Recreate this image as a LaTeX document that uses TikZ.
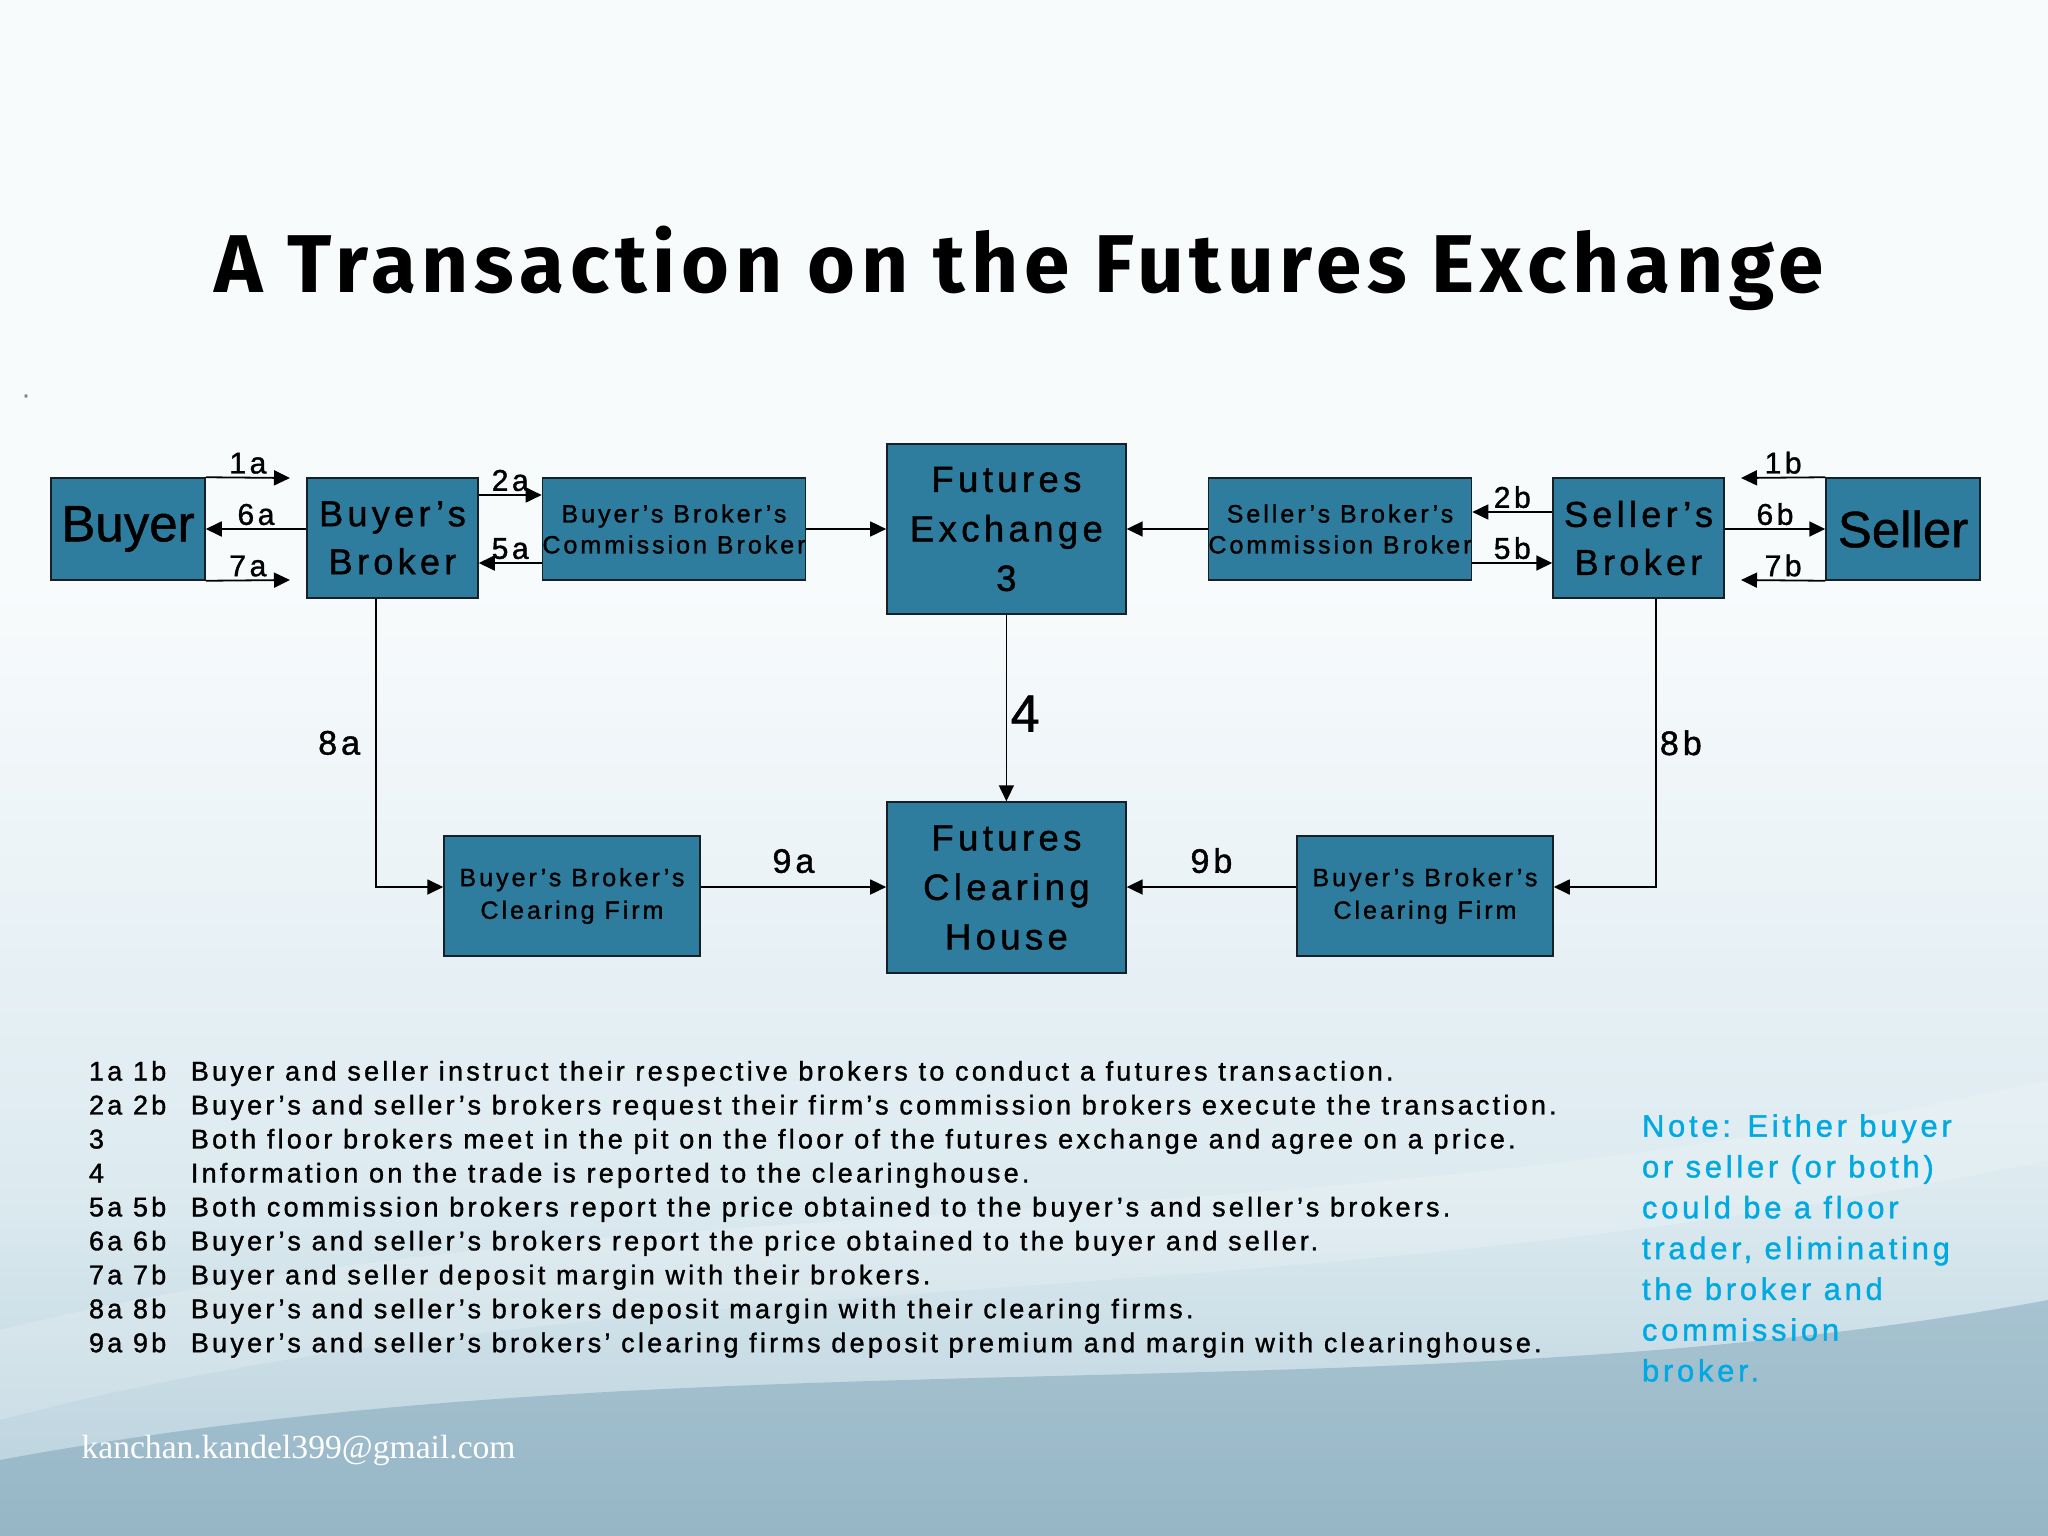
\documentclass[tikz,border=0pt]{standalone}
\usepackage{fontspec}
\setmainfont{Liberation Sans}[FakeBold=1]
\newfontfamily\boxfont{Liberation Sans}[LetterSpace=12, FakeBold=1.2]
\newfontfamily\headfont{Fira Sans}[LetterSpace=7]
\newfontfamily\mailfont{Liberation Serif}
\usepackage{tikz}
\usetikzlibrary{arrows.meta, positioning}
\tikzset{
	box/.style={
		draw=boxline,
		fill=boxblue,
		line width=1.5pt,
		inner sep=0pt,
		align=center
	},
	edge/.style={
		-{Triangle[length=16pt,width=15pt]},
		line width=1.8pt
	},
	num/.style={font={\boxfont\fontsize{30}{32}\selectfont}, inner sep=3pt}
}
\definecolor{boxblue}{RGB}{46,124,158}
\definecolor{boxline}{RGB}{22,32,38}
\definecolor{notecyan}{RGB}{0,169,226}
\definecolor{bgA}{RGB}{92,138,162}
\definecolor{bgB}{RGB}{150,184,200}
\definecolor{bgC}{RGB}{220,234,240}
\definecolor{bgD}{RGB}{248,251,252}
\pgfdeclareverticalshading{slidebg}{100bp}{color(0bp)=(bgA); color(16bp)=(bgB); color(36bp)=(bgC); color(56bp)=(bgD); color(100bp)=(bgD)}

\begin{document}
\begin{tikzpicture}[x=1pt, y=-1pt]
	\useasboundingbox (0,0) rectangle (2048,1536);
	% slide background
	\fill[shading=slidebg] (0,0) rectangle (2048,1536);
	\fill[white, opacity=0.18] (0,1330) .. controls (600,1180) and (1300,1250) .. (2048,1080) -- (2048,1160) .. controls (1300,1320) and (600,1260) .. (0,1420) -- cycle;
	\fill[bgA, opacity=0.35] (0,1460) .. controls (700,1330) and (1400,1420) .. (2048,1300) -- (2048,1536) -- (0,1536) -- cycle;
	
	\node[font={\headfont\bfseries\fontsize{82}{86}\selectfont}] (title) at (1019,268) {A Transaction on the Futures Exchange};
	\node[text=gray, font=\fontsize{24}{24}\selectfont] (dot) at (26,396) {.};
	
	% top row
	\node[box, minimum width=154pt, minimum height=102pt, font={\fontsize{51}{56}\selectfont}] (buyer) at (128,529) {Buyer};
	\node[box, minimum width=171pt, minimum height=120pt, font={\boxfont\fontsize{36}{48}\selectfont}] (bb) at (392.5,538) {Buyer’s\\Broker};
	\node[box, minimum width=256pt, minimum height=102pt, font={\boxfont\fontsize{25}{31}\selectfont}] (bbcb) at (674,529) {Buyer’s Broker’s\\Commission Broker};
	\node[box, minimum width=239pt, minimum height=170pt, font={\boxfont\fontsize{36.5}{49.5}\selectfont}] (fe) at (1006.4,529) {Futures\\Exchange\\3};
	\node[box, minimum width=256pt, minimum height=102pt, font={\boxfont\fontsize{25}{31}\selectfont}] (sbcb) at (1340,529) {Seller’s Broker’s\\Commission Broker};
	\node[box, minimum width=171pt, minimum height=120pt, font={\boxfont\fontsize{36}{48}\selectfont}] (sb) at (1638.5,538) {Seller’s\\Broker};
	\node[box, minimum width=154pt, minimum height=102pt, font={\fontsize{51}{56}\selectfont}] (seller) at (1903,529) {Seller};
	
	% bottom row
	\node[box, minimum width=256pt, minimum height=120pt, font={\boxfont\fontsize{25}{32.7}\selectfont}] (bcf) at (572,896) {Buyer’s Broker’s\\Clearing Firm};
	\node[box, minimum width=239pt, minimum height=171pt, font={\boxfont\fontsize{36.5}{49.5}\selectfont}] (fch) at (1006.4,887.5) {Futures\\Clearing\\House};
	\node[box, minimum width=256pt, minimum height=120pt, font={\boxfont\fontsize{25}{32.7}\selectfont}] (scf) at (1425,896) {Buyer’s Broker’s\\Clearing Firm};
	
	\coordinate (a1end) at (290,478);
	\coordinate (a7end) at (290,580);
	\coordinate (b1end) at (1741,478);
	\coordinate (b7end) at (1741,580);
	\coordinate (r2a) at (0,495);
	\coordinate (r2b) at (0,512);
	\coordinate (r5) at (0,563);
	\coordinate (r9) at (0,887);
	\coordinate (c8a) at (376,0);
	\coordinate (c8b) at (1656,0);
	
	% buyer side
	\draw[edge] (buyer.north east) -- node[num, above]{1a} (a1end);
	\draw[edge] (bb.west |- buyer.east) -- node[num, above]{6a} (buyer.east);
	\draw[edge] (buyer.south east) -- node[num, above]{7a} (a7end);
	\draw[edge] (bb.east |- r2a) -- node[num, above]{2a} (bbcb.west |- r2a);
	\draw[edge] (bbcb.west |- r5) -- node[num, above]{5a} (bb.east |- r5);
	\draw[edge] (bbcb.east) -- (fe.west);
	
	% seller side
	\draw[edge] (seller.north west) -- node[num, above]{1b} (b1end);
	\draw[edge] (sb.east |- seller.west) -- node[num, above]{6b} (seller.west);
	\draw[edge] (seller.south west) -- node[num, above]{7b} (b7end);
	\draw[edge] (sb.west |- r2b) -- node[num, above]{2b} (sbcb.east |- r2b);
	\draw[edge] (sbcb.east |- r5) -- node[num, above]{5b} (sb.west |- r5);
	\draw[edge] (sbcb.west) -- (fe.east);
	
	% clearing
	\draw[edge] (fe.south) -- node[right, pos=0.53, font={\fontsize{52}{56}\selectfont}]{4} (fch.north);
	\draw[edge] (bb.south -| c8a) |- node[num, pos=0.25, left=12pt, font={\boxfont\fontsize{34}{36}\selectfont}]{8a} (bcf.west |- r9);
	\draw[edge] (sb.south -| c8b) |- node[num, pos=0.25, right, font={\boxfont\fontsize{34}{36}\selectfont}]{8b} (scf.east |- r9);
	\draw[edge] (bcf.east |- r9) -- node[num, above=10pt, font={\boxfont\fontsize{34}{36}\selectfont}]{9a} (fch.west |- r9);
	\draw[edge] (scf.west |- r9) -- node[num, above=10pt, font={\boxfont\fontsize{34}{36}\selectfont}]{9b} (fch.east |- r9);
	
	% legend
	\foreach \lab/\txt [count=\i from 0] in {
		1a 1b/Buyer and seller instruct their respective brokers to conduct a futures transaction.,
		2a 2b/Buyer’s and seller’s brokers request their firm’s commission brokers execute the transaction.,
		3/Both floor brokers meet in the pit on the floor of the futures exchange and agree on a price.,
		4/Information on the trade is reported to the clearinghouse.,
		5a 5b/Both commission brokers report the price obtained to the buyer’s and seller’s brokers.,
		6a 6b/Buyer’s and seller’s brokers report the price obtained to the buyer and seller.,
		7a 7b/Buyer and seller deposit margin with their brokers.,
		8a 8b/Buyer’s and seller’s brokers deposit margin with their clearing firms.,
		9a 9b/Buyer’s and seller’s brokers’ clearing firms deposit premium and margin with clearinghouse.}
	{
		\node[anchor=base west, inner sep=0pt, font={\boxfont\fontsize{27}{30}\selectfont}] (leg\i) at (88.8,{1080.5+33.96*\i}) {\lab};
		\node[anchor=base west, inner sep=0pt, font={\boxfont\fontsize{27}{30}\selectfont}] (legtxt\i) at (190.7,{1080.5+33.96*\i}) {\txt};
	}
	
	\node[anchor=north west, inner sep=0pt, align=left, text=notecyan, font={\boxfont\fontsize{31}{40.8}\selectfont}] (note) at (1641.8,1114) {Note: Either buyer\\or seller (or both)\\could be a floor\\trader, eliminating\\the broker and\\commission\\broker.};
	
	\node[anchor=west, text=white, font={\mailfont\fontsize{33.6}{36}\selectfont}] (mail) at (78,1450) {kanchan.kandel399@gmail.com};
\end{tikzpicture}
\end{document}
